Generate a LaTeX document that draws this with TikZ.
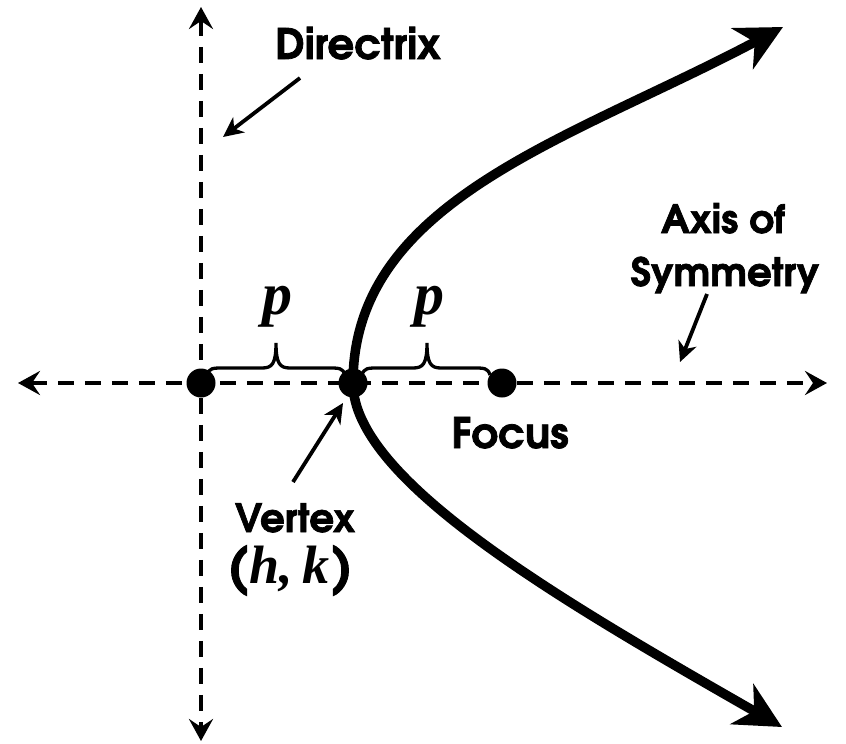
\documentclass[tikz,border=0pt]{standalone}
\usepackage{fontspec}
\usetikzlibrary{arrows.meta}
\newfontfamily\gothic{texgyreadventor-bold.otf}[FakeBold=1.8]
\newfontfamily\tms{Liberation Serif}
\begin{document}
\begin{tikzpicture}[x=1pt,y=-1pt,
  dashline/.style={line width=4.4pt, dash pattern=on 16pt off 11pt},
  axtip/.style={{Stealth[length=22pt,width=24pt,inset=8pt]}-{Stealth[length=22pt,width=24pt,inset=8pt]}},
  leader/.style={line width=3.8pt, -{Stealth[length=20pt,width=19pt,inset=6pt]}},
  curvestyle/.style={line width=9.5pt,
    {Stealth[length=46pt,width=46pt,inset=14pt]}-{Stealth[length=46pt,width=46pt,inset=14pt]}},
  bracestyle/.style={line width=3.3pt},
  dot/.style={circle, fill=black, inner sep=0pt, minimum size=29pt},
  lab/.style={font=\gothic\fontsize{39}{46}\selectfont, inner sep=0pt, anchor=base},
  var/.style={font=\tms\bfseries\itshape\fontsize{60}{64}\selectfont, inner sep=0pt, anchor=base}
]
\useasboundingbox (0,0) rectangle (846,744);

% axes
\coordinate (axL) at (18,383);
\coordinate (axR) at (827,383);
\coordinate (dirT) at (201,7);
\coordinate (dirB) at (201,741);
\draw[dashline, axtip] (axL) -- (axR);
\draw[dashline, axtip] (dirT) -- (dirB);

% parabola
\coordinate (upT) at (783,27);
\coordinate (loT) at (782,727);
\coordinate (vx) at (353,383);
\draw[curvestyle] (upT) .. controls (570,140) and (353,200) .. (vx)
  .. controls (353,480) and (560,600) .. (loT);

% dots
\node[dot] (D) at (201,383) {};
\node[dot] (V) at (353,383) {};
\node[dot] (F) at (502,383) {};

% braces
\draw[bracestyle] (207,375) .. controls (209,368) and (213,368) .. (223,368)
  -- (262,368) .. controls (272,368) and (276,364) .. (276,343)
  .. controls (276,364) and (280,368) .. (290,368) -- (329,368)
  .. controls (339,368) and (343,368) .. (345,375);
\draw[bracestyle] (362,375) .. controls (364,368) and (368,368) .. (378,368)
  -- (413,368) .. controls (423,368) and (427,364) .. (427,343)
  .. controls (427,364) and (431,368) .. (441,368) -- (474,368)
  .. controls (484,368) and (488,368) .. (490,375);

% p labels
\node[var] (p1) at (277,314) {p};
\node[var] (p2) at (429,314) {p};

% labels
\node[lab, font=\gothic\fontsize{42}{46}\selectfont] (dirlab) at (358,59) {Directrix};
\node[lab] (axis1) at (723,233) {Axis of};
\node[lab] (axis2) at (725,286) {Symmetry};
\node[lab, font=\gothic\fontsize{42}{48}\selectfont] (foc) at (510,448) {Focus};
\node[lab] (vert) at (295,532) {Vertex};
\node[lab, font=\gothic\fontsize{50}{56}\selectfont] (hk) at (290,583) {(\kern1pt{\tms\bfseries\itshape\fontsize{54}{60}\selectfont h,\,k}\kern2pt)};

% leaders
\coordinate (dirS) at (300,78);
\coordinate (dirE) at (223,137);
\draw[leader] (dirS) -- (dirE);
\coordinate (axS) at (707,294);
\coordinate (axE) at (680,362);
\draw[leader] (axS) -- (axE);
\coordinate (vS) at (293,482);
\coordinate (vE) at (343,403);
\draw[leader] (vS) -- (vE);
\end{tikzpicture}
\end{document}
